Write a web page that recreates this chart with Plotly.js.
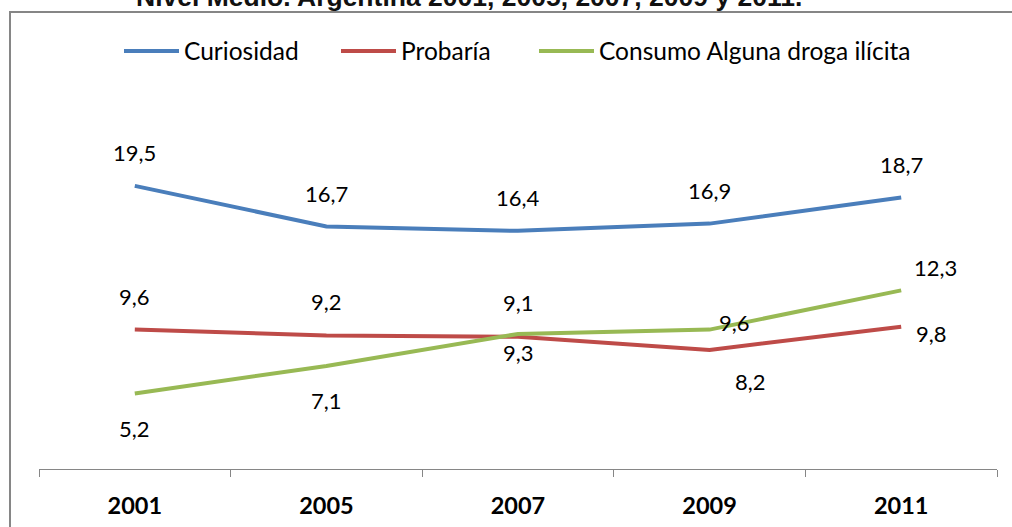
<!DOCTYPE html>
<html>
<head>
<meta charset="utf-8">
<script src="https://cdn.plot.ly/plotly-3.0.1.min.js"></script>
<style>html,body{margin:0;padding:0;background:#fff;}#chart{width:1012px;height:527px;}</style>
</head>
<body>
<div id="chart"></div>
<script>
const years = ["2001", "2005", "2007", "2009", "2011"];
const curiosidad = [19.5, 16.7, 16.4, 16.9, 18.7];
const probaria = [9.6, 9.2, 9.1, 8.2, 9.8];
const consumo = [5.2, 7.1, 9.3, 9.6, 12.3];
const seriesNames = ["Curiosidad", "Probaría", "Consumo Alguna droga ilícita"];
const titleText = "Nivel Medio. Argentina 2001, 2005, 2007, 2009 y 2011.";

const colors = ["#4A7EBB", "#BE4B48", "#98B954"];
const seriesData = [curiosidad, probaria, consumo];
const legendIds = ["legend", "legend2", "legend3"];
const legendLeftPx = [119, 336, 534];
// label offsets in px (dx right, dy down) per series/point
const labelOffsets = [
  [[0,-33],[0,-33],[0,-33],[0,-33],[0,-33]],
  [[0,-33],[0,-34],[0,-34],[41,32],[30,7]],
  [[0,35],[0,35],[0,19],[25,-7],[34,-23]]
];

const traces = seriesData.map((vals, i) => ({
  type: "scatter",
  mode: "lines",
  x: years,
  y: vals,
  name: seriesNames[i],
  legend: legendIds[i],
  line: {color: colors[i], width: 4},
  hoverinfo: "skip"
}));

const fmt = v => v.toFixed(1).replace(".", ",");
const annotations = [];
seriesData.forEach((vals, i) => {
  vals.forEach((v, j) => {
    annotations.push({
      x: j, y: v, xref: "x", yref: "y",
      text: fmt(v), showarrow: false,
      xanchor: "center", yanchor: "middle",
      xshift: labelOffsets[i][j][0], yshift: -labelOffsets[i][j][1],
      font: {family: "Lato", size: 22, color: "#000"}
    });
  });
});
annotations.push({
  text: "<b>" + titleText + "</b>",
  xref: "paper", yref: "paper",
  x: (469 - 39) / 958, y: (469 - 14) / 363,
  xanchor: "center", yanchor: "bottom",
  showarrow: false,
  font: {family: "Liberation Sans, Arial", size: 26.5, color: "#111"}
});

const legendStyle = px => ({
  orientation: "h",
  x: (px - 39) / 958, xanchor: "left",
  y: (469 - 51) / 363, yanchor: "middle",
  font: {family: "Lato", size: 24.5, color: "#000"},
  itemwidth: 55,
  bgcolor: "rgba(0,0,0,0)"
});

const layout = {
  width: 1012, height: 527,
  margin: {l: 39, r: 15, t: 106, b: 58},
  paper_bgcolor: "#fff", plot_bgcolor: "#fff",
  showlegend: true,
  xaxis: {
    type: "category",
    range: [-0.5, 4.5],
    showline: true, linecolor: "#868686", linewidth: 1,
    ticks: "outside", tickson: "boundaries", ticklen: 7, tickcolor: "#868686",
    showgrid: false, zeroline: false,
    tickfont: {family: "Lato", size: 23.5, color: "#000", weight: "bold"},
    ticklabelstandoff: 16
  },
  yaxis: {
    range: [0, 25], visible: false, showgrid: false, zeroline: false
  },
  shapes: [{
    type: "rect", xref: "paper", yref: "paper",
    x0: (10 - 39) / 958, x1: (1020 - 39) / 958,
    y0: (469 - 540) / 363, y1: (469 - 12) / 363,
    line: {color: "#868686", width: 2}, fillcolor: "rgba(0,0,0,0)"
  }],
  annotations: annotations
};
legendIds.forEach((id, i) => { layout[id] = legendStyle(legendLeftPx[i]); });

Plotly.newPlot("chart", traces, layout, {displayModeBar: false, staticPlot: true});
</script>
</body>
</html>
